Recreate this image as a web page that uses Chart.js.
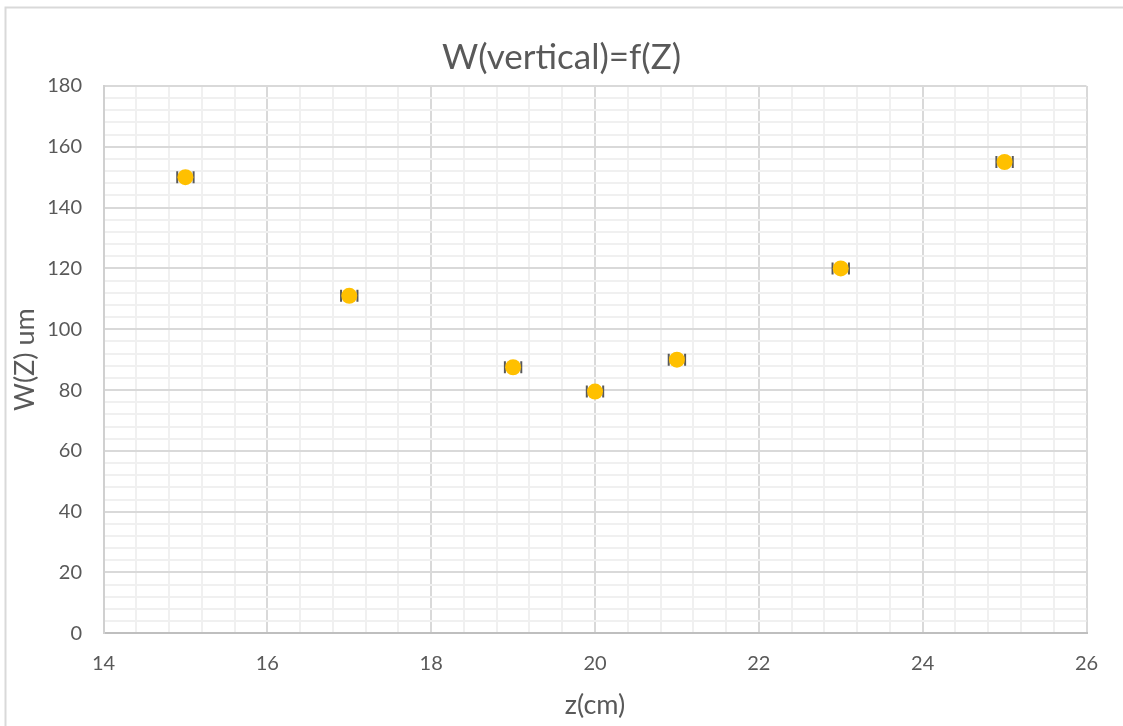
<!DOCTYPE html>
<html>
<head>
<meta charset="utf-8">
<title>W(vertical)=f(Z)</title>
<script src="https://cdn.jsdelivr.net/npm/chart.js@4.4.1/dist/chart.umd.min.js"></script>
<style>
  html, body { margin: 0; padding: 0; background: #ffffff; }
  #wrap { width: 1123px; height: 726px; position: relative; }
</style>
</head>
<body>
<div id="wrap"><canvas id="chart" width="1123" height="726"></canvas></div>
<script>
// Beam width measured along the propagation axis
const zPositions = [15, 17, 19, 20, 21, 23, 25];          // z (cm)
const widthValues = [150, 111, 87.5, 79.5, 90, 120, 155];  // W(Z) (um)
const zErrors = [0.1, 0.1, 0.1, 0.1, 0.1, 0.1, 0.1];       // ± uncertainty on z (cm)

const xTickLabels = [14, 16, 18, 20, 22, 24, 26];
const yTickLabels = [0, 20, 40, 60, 80, 100, 120, 140, 160, 180];

const TEXT = '#595959';
const FONT = 'Lato, "Open Sans", sans-serif';

const isLabelled = (v, list) => list.some(t => Math.abs(t - v) < 1e-6);

// Horizontal error bars drawn behind the markers
const xErrorBars = {
  id: 'xErrorBars',
  beforeDatasetsDraw(chart) {
    const { ctx, scales: { x, y } } = chart;
    ctx.save();
    ctx.strokeStyle = '#595959';
    ctx.lineWidth = 2;
    zPositions.forEach((z, i) => {
      const py = y.getPixelForValue(widthValues[i]);
      const x0 = x.getPixelForValue(z - zErrors[i]);
      const x1 = x.getPixelForValue(z + zErrors[i]);
      ctx.beginPath();
      ctx.moveTo(x0, py); ctx.lineTo(x1, py);
      ctx.moveTo(x0, py - 6); ctx.lineTo(x0, py + 6);
      ctx.moveTo(x1, py - 6); ctx.lineTo(x1, py + 6);
      ctx.stroke();
    });
    ctx.restore();
  }
};

// Light frame around the chart
const frame = {
  id: 'frame',
  beforeDraw(chart) {
    const { ctx, width, height } = chart;
    ctx.save();
    ctx.fillStyle = '#ffffff';
    ctx.fillRect(0, 0, width, height);
    ctx.strokeStyle = '#d9d9d9';
    ctx.lineWidth = 2;
    ctx.beginPath();
    ctx.moveTo(5.5, height + 2);
    ctx.lineTo(5.5, 7.5);
    ctx.lineTo(width + 2, 7.5);
    ctx.stroke();
    ctx.restore();
  }
};

new Chart(document.getElementById('chart'), {
  type: 'scatter',
  data: {
    datasets: [{
      label: 'W(Z)',
      data: zPositions.map((z, i) => ({ x: z, y: widthValues[i] })),
      backgroundColor: '#FFC000',
      borderColor: '#FFC000',
      borderWidth: 0,
      pointRadius: 8,
      pointHoverRadius: 8
    }]
  },
  options: {
    responsive: false,
    animation: false,
    devicePixelRatio: 1,
    layout: { padding: { left: 36.5, right: 36.5, top: 0, bottom: 0 } },
    plugins: {
      legend: { display: false },
      tooltip: { enabled: false },
      title: {
        display: true,
        text: 'W(vertical)=f(Z)',
        color: TEXT,
        font: { family: FONT, size: 35, weight: 'normal', lineHeight: 1.2 },
        padding: { top: 37, bottom: 7 }
      }
    },
    scales: {
      x: {
        type: 'linear',
        min: 14,
        max: 26,
        afterFit(s) { s.height = 92.7; },
        ticks: {
          stepSize: 0.4,
          autoSkip: false,
          maxRotation: 0,
          padding: 18.7,
          color: TEXT,
          font: { family: FONT, size: 20, lineHeight: 1.2 },
          callback: v => isLabelled(v, xTickLabels) ? String(Math.round(v)) : ''
        },
        grid: {
          drawTicks: false,
          lineWidth: 2,
          color: c => isLabelled(c.tick.value, xTickLabels) ? '#d9d9d9' : '#f0f0f0'
        },
        border: { display: true, color: '#bfbfbf', width: 2 },
        title: {
          display: true,
          text: 'z(cm)',
          color: TEXT,
          font: { family: FONT, size: 27, lineHeight: 1.2 },
          padding: { top: 0, bottom: 4.8 }
        }
      },
      y: {
        type: 'linear',
        min: 0,
        max: 180,
        afterFit(s) { s.width = 67; },
        ticks: {
          stepSize: 4,
          autoSkip: false,
          padding: 21.5,
          color: TEXT,
          font: { family: FONT, size: 20, lineHeight: 1.2 },
          callback: v => isLabelled(v, yTickLabels) ? String(Math.round(v)) : ''
        },
        grid: {
          drawTicks: false,
          lineWidth: 2,
          color: c => isLabelled(c.tick.value, yTickLabels) ? '#d9d9d9' : '#f0f0f0'
        },
        border: { display: true, color: '#d0d0d0', width: 2 },
        title: {
          display: true,
          text: 'W(Z) um',
          color: TEXT,
          font: { family: FONT, size: 27, lineHeight: 1.2 },
          padding: { top: -27.7, bottom: 0 }
        }
      }
    }
  },
  plugins: [frame, xErrorBars]
});
</script>
</body>
</html>
